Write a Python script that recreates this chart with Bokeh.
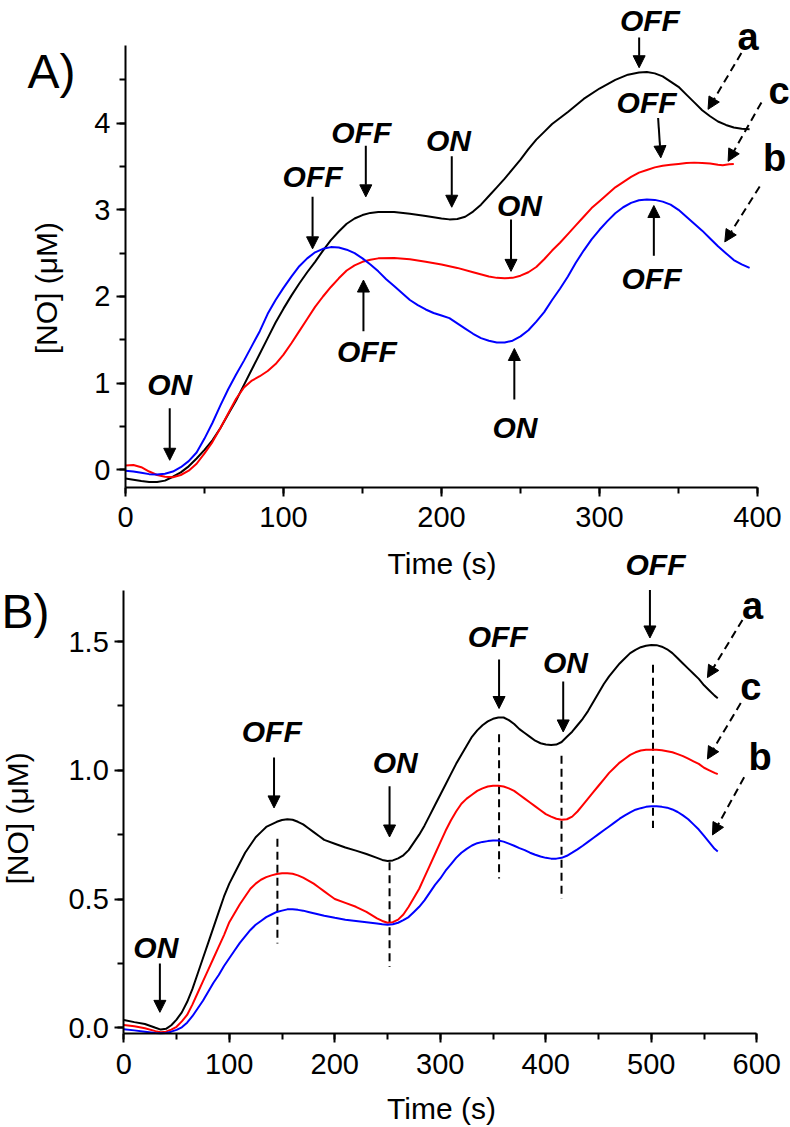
from math import pi
from bokeh.plotting import figure
from bokeh.models import (ColumnDataSource, Range1d, SingleIntervalTicker, NumeralTickFormatter,
                          Arrow, NormalHead)
from bokeh.layouts import column
from bokeh.core.properties import value
from bokeh.embed import file_html
from bokeh.resources import INLINE

# ---------------- Panel A data ----------------
a_time_a = [0, 5, 10, 15, 20, 25, 30, 35, 40, 45, 50, 55, 60, 65, 70, 75, 80, 85, 90, 95, 100, 105,
            110, 115, 120, 125, 130, 135, 140, 145, 150, 155, 160, 170, 180, 190, 200, 205, 210, 215,
            220, 225, 230, 235, 240, 245, 250, 255, 260, 265, 270, 275, 280, 290, 300, 310, 318, 325,
            330, 335, 340, 345, 350, 355, 360, 365, 370, 375, 380, 385, 390, 395]
a_no_a = [-0.10, -0.115, -0.13, -0.14, -0.14, -0.125, -0.08, -0.03, 0.04, 0.13, 0.23, 0.34, 0.48,
          0.64, 0.80, 0.98, 1.16, 1.34, 1.52, 1.70, 1.86, 2.01, 2.15, 2.28, 2.40, 2.53, 2.65, 2.75,
          2.84, 2.90, 2.94, 2.965, 2.975, 2.975, 2.955, 2.93, 2.90, 2.89, 2.895, 2.92, 2.98, 3.06,
          3.16, 3.26, 3.36, 3.47, 3.58, 3.70, 3.81, 3.90, 3.99, 4.06, 4.13, 4.28, 4.40, 4.50, 4.56,
          4.585, 4.59, 4.575, 4.54, 4.48, 4.42, 4.33, 4.24, 4.15, 4.08, 4.02, 3.98, 3.95, 3.935, 3.93]

a_time_b = [0, 5, 10, 15, 20, 25, 30, 35, 40, 45, 50, 55, 60, 65, 70, 75, 80, 85, 90, 95, 100, 105,
            110, 115, 120, 125, 130, 135, 140, 145, 150, 155, 160, 165, 170, 175, 180, 185, 190, 195,
            200, 205, 210, 215, 220, 225, 230, 235, 240, 245, 250, 255, 260, 265, 270, 275, 280, 285,
            290, 295, 300, 305, 310, 315, 320, 325, 330, 335, 340, 345, 350, 355, 360, 365, 370, 375,
            380, 385, 390, 395]
a_no_b = [-0.01, -0.02, -0.035, -0.05, -0.055, -0.045, -0.02, 0.03, 0.10, 0.20, 0.36, 0.54, 0.74,
          0.93, 1.10, 1.26, 1.43, 1.60, 1.80, 1.96, 2.10, 2.23, 2.35, 2.44, 2.51, 2.55, 2.57, 2.565,
          2.54, 2.50, 2.44, 2.37, 2.29, 2.20, 2.12, 2.04, 1.96, 1.90, 1.85, 1.81, 1.78, 1.75, 1.69,
          1.63, 1.57, 1.52, 1.49, 1.47, 1.47, 1.49, 1.54, 1.61, 1.71, 1.82, 1.96, 2.09, 2.23, 2.39,
          2.53, 2.66, 2.77, 2.87, 2.96, 3.03, 3.08, 3.11, 3.12, 3.115, 3.095, 3.06, 3.00, 2.92, 2.84,
          2.76, 2.67, 2.58, 2.50, 2.42, 2.37, 2.33]

a_time_c = [0, 5, 10, 15, 20, 25, 30, 35, 40, 45, 50, 55, 60, 65, 70, 75, 80, 85, 90, 95, 100, 105,
            110, 115, 120, 125, 130, 135, 140, 145, 150, 155, 160, 170, 180, 190, 200, 210, 220, 230,
            235, 240, 245, 250, 255, 260, 265, 270, 275, 280, 285, 290, 295, 300, 305, 310, 315, 320,
            325, 330, 335, 340, 345, 350, 355, 360, 365, 370, 375, 378, 382, 385]
a_no_c = [0.05, 0.055, 0.03, -0.02, -0.06, -0.08, -0.085, -0.06, -0.01, 0.07, 0.19, 0.32, 0.48, 0.65,
          0.82, 0.95, 1.03, 1.08, 1.14, 1.22, 1.33, 1.46, 1.60, 1.74, 1.88, 2.00, 2.11, 2.21, 2.30,
          2.36, 2.40, 2.425, 2.44, 2.445, 2.43, 2.40, 2.37, 2.33, 2.28, 2.23, 2.215, 2.21, 2.215, 2.24,
          2.28, 2.34, 2.43, 2.53, 2.62, 2.72, 2.82, 2.92, 3.02, 3.10, 3.18, 3.26, 3.32, 3.38, 3.43,
          3.46, 3.49, 3.51, 3.52, 3.53, 3.54, 3.545, 3.54, 3.535, 3.52, 3.515, 3.525, 3.53]

# annotations panel A
a_note_text = ["ON", "OFF", "OFF", "OFF", "ON", "ON", "ON", "OFF", "OFF", "OFF"]
a_note_x = [28, 118.4, 149.2, 152.8, 204.4, 249.3, 246.5, 331.9, 329.8, 332.9]
a_note_y = [0.98, 3.38, 3.89, 1.36, 3.80, 3.05, 0.49, 5.18, 4.24, 2.21]
a_arrow_x0 = [28, 118.4, 152.1, 150.6, 206.5, 244.0, 246.1, 325.1, 337.1, 334.4]
a_arrow_y0 = [0.71, 3.15, 3.74, 1.60, 3.62, 2.89, 0.81, 4.99, 4.06, 2.47]
a_arrow_x1 = [28, 118.4, 152.1, 150.6, 206.5, 244.0, 246.1, 325.1, 338.8, 334.4]
a_arrow_y1 = [0.11, 2.55, 3.15, 2.19, 3.03, 2.29, 1.40, 4.64, 3.60, 3.05]
a_curve_names = ["a", "c", "b"]
a_name_x = [394, 413.6, 410.9]
a_name_y = [4.99, 4.37, 3.60]
a_dash_x0 = [389.8, 402.5, 401.4]
a_dash_y0 = [4.81, 4.24, 3.27]
a_dash_x1 = [368.7, 381.4, 379.3]
a_dash_y1 = [4.16, 3.56, 2.63]

# ---------------- Panel B data ----------------
b_time_a = [0, 10, 20, 30, 35, 40, 45, 50, 55, 60, 65, 70, 75, 80, 85, 90, 95, 100, 105, 110, 115,
            120, 125, 130, 135, 140, 145, 150, 155, 160, 165, 170, 175, 180, 185, 190, 200, 210, 220,
            230, 240, 245, 250, 255, 260, 265, 270, 275, 280, 285, 290, 295, 300, 305, 310, 315, 320,
            325, 330, 335, 340, 345, 350, 355, 360, 365, 370, 375, 380, 385, 390, 395, 400, 405, 410,
            415, 420, 425, 430, 435, 440, 445, 450, 455, 460, 465, 470, 475, 480, 485, 490, 495, 500,
            505, 510, 515, 520, 525, 530, 535, 540, 545, 550, 555, 560, 563]
b_no_a = [0.03, 0.022, 0.015, 0.0, -0.007, -0.004, 0.01, 0.032, 0.06, 0.10, 0.15, 0.21, 0.27, 0.33,
          0.39, 0.45, 0.51, 0.56, 0.60, 0.64, 0.68, 0.71, 0.74, 0.76, 0.78, 0.79, 0.80, 0.807, 0.81,
          0.808, 0.80, 0.79, 0.775, 0.76, 0.745, 0.73, 0.715, 0.70, 0.688, 0.675, 0.66, 0.652, 0.648,
          0.65, 0.658, 0.67, 0.69, 0.72, 0.75, 0.785, 0.825, 0.865, 0.905, 0.945, 0.985, 1.025, 1.06,
          1.095, 1.13, 1.155, 1.175, 1.19, 1.20, 1.205, 1.205, 1.195, 1.18, 1.16, 1.145, 1.13, 1.115,
          1.105, 1.10, 1.098, 1.10, 1.11, 1.13, 1.15, 1.175, 1.20, 1.23, 1.265, 1.30, 1.335, 1.365,
          1.39, 1.415, 1.435, 1.455, 1.468, 1.478, 1.484, 1.487, 1.486, 1.48, 1.47, 1.455, 1.435,
          1.415, 1.395, 1.375, 1.355, 1.33, 1.31, 1.29, 1.28]

b_time_c = [0, 10, 20, 30, 35, 40, 45, 50, 55, 60, 65, 70, 75, 80, 85, 90, 95, 100, 105, 110, 115,
            120, 125, 130, 135, 140, 145, 150, 155, 160, 165, 170, 175, 180, 185, 190, 195, 200, 210,
            220, 230, 240, 245, 250, 255, 260, 265, 270, 275, 280, 285, 290, 295, 300, 305, 310, 315,
            320, 325, 330, 335, 340, 345, 350, 355, 360, 365, 370, 375, 380, 385, 390, 395, 400, 405,
            410, 415, 420, 425, 430, 435, 440, 445, 450, 455, 460, 465, 470, 475, 480, 485, 490, 495,
            500, 505, 510, 515, 520, 525, 530, 535, 540, 545, 550, 555, 560, 563]
b_no_c = [0.011, 0.006, -0.002, -0.013, -0.017, -0.015, -0.007, 0.004, 0.025, 0.05, 0.09, 0.135,
          0.18, 0.225, 0.27, 0.315, 0.36, 0.41, 0.445, 0.48, 0.51, 0.54, 0.56, 0.575, 0.585, 0.592,
          0.597, 0.60, 0.60, 0.598, 0.592, 0.583, 0.572, 0.56, 0.545, 0.53, 0.515, 0.50, 0.485, 0.47,
          0.45, 0.425, 0.415, 0.408, 0.41, 0.42, 0.44, 0.47, 0.505, 0.54, 0.585, 0.63, 0.675, 0.72,
          0.765, 0.805, 0.84, 0.87, 0.89, 0.905, 0.92, 0.93, 0.937, 0.94, 0.94, 0.937, 0.93, 0.92,
          0.905, 0.89, 0.875, 0.86, 0.845, 0.83, 0.82, 0.812, 0.808, 0.81, 0.82, 0.84, 0.865, 0.89,
          0.915, 0.94, 0.965, 0.99, 1.01, 1.03, 1.045, 1.06, 1.07, 1.077, 1.08, 1.08, 1.08, 1.078,
          1.074, 1.07, 1.063, 1.055, 1.045, 1.035, 1.025, 1.01, 1.0, 0.99, 0.985]

b_time_b = [0, 10, 20, 30, 35, 40, 45, 50, 55, 60, 65, 70, 75, 80, 85, 90, 95, 100, 105, 110, 115,
            120, 125, 130, 135, 140, 145, 150, 155, 160, 165, 170, 175, 180, 190, 200, 210, 220, 230,
            240, 245, 250, 255, 260, 265, 270, 275, 280, 285, 290, 295, 300, 305, 310, 315, 320, 325,
            330, 335, 340, 345, 350, 355, 360, 365, 370, 375, 380, 385, 390, 395, 400, 405, 410, 415,
            420, 425, 430, 435, 440, 445, 450, 455, 460, 465, 470, 475, 480, 485, 490, 495, 500, 505,
            510, 515, 520, 525, 530, 535, 540, 545, 550, 555, 560, 563]
b_no_b = [-0.006, -0.01, -0.015, -0.02, -0.021, -0.02, -0.015, -0.008, 0.002, 0.02, 0.045, 0.075,
          0.105, 0.14, 0.175, 0.205, 0.24, 0.27, 0.30, 0.33, 0.355, 0.38, 0.40, 0.415, 0.43, 0.44,
          0.45, 0.455, 0.46, 0.46, 0.458, 0.455, 0.45, 0.445, 0.435, 0.427, 0.42, 0.415, 0.41, 0.405,
          0.402, 0.40, 0.402, 0.408, 0.418, 0.43, 0.45, 0.47, 0.495, 0.525, 0.555, 0.58, 0.61, 0.635,
          0.66, 0.68, 0.695, 0.708, 0.717, 0.722, 0.725, 0.727, 0.727, 0.723, 0.715, 0.707, 0.698,
          0.69, 0.68, 0.672, 0.665, 0.66, 0.657, 0.657, 0.66, 0.668, 0.68, 0.693, 0.707, 0.722, 0.737,
          0.752, 0.767, 0.782, 0.797, 0.812, 0.825, 0.837, 0.847, 0.853, 0.858, 0.86, 0.86, 0.858,
          0.855, 0.848, 0.838, 0.825, 0.81, 0.79, 0.77, 0.745, 0.72, 0.695, 0.685]

# annotations panel B
b_note_text = ["ON", "OFF", "ON", "OFF", "ON", "OFF"]
b_note_x = [30.4, 140.2, 257.3, 354.4, 418.7, 504.0]
b_note_y = [0.313, 1.149, 1.03, 1.52, 1.42, 1.80]
b_arrow_x0 = [34.2, 142.4, 251.9, 355.7, 416.5, 498.7]
b_arrow_y0 = [0.25, 1.05, 0.938, 1.43, 1.345, 1.70]
b_arrow_x1 = [34.2, 142.4, 251.9, 355.7, 416.5, 498.7]
b_arrow_y1 = [0.06, 0.854, 0.741, 1.24, 1.149, 1.514]
b_vline_x = [145.6, 251.9, 355.7, 414.9, 501.6]
b_vline_top = [0.734, 0.643, 1.14, 1.057, 1.41]
b_vline_bottom = [0.327, 0.236, 0.58, 0.50, 0.776]
b_curve_names = ["a", "c", "b"]
b_name_x = [596, 594.3, 603.2]
b_name_y = [1.638, 1.322, 1.05]
b_dash_x0 = [586.4, 584.8, 588.0]
b_dash_y0 = [1.584, 1.261, 0.973]
b_dash_x1 = [553.2, 553.2, 558.0]
b_dash_y1 = [1.36, 1.044, 0.749]

# titles / axis titles (text, x, y in data units of each panel)
x_title = "Time (s)"
y_title = "[NO] (μM)"
a_panel_label, a_panel_xy = "A)", (-62.0, 4.597)
a_xtitle_xy = (200.3, -1.087)
a_ytitle_xy = (-50.0, 2.096)
b_panel_label, b_panel_xy = "B)", (-115.9, 1.617)
b_xtitle_xy = (301.1, -0.3134)
b_ytitle_xy = (-100.4, 0.813)

FONT = "Liberation Sans"
DASH = "8 5"


def style_axes(p, xint, yint, xloc, yloc, yfmt=None, xb=None, yb=None):
    xa = p.xaxis[0]
    ya = p.yaxis[0]
    xa.fixed_location = xloc
    ya.fixed_location = yloc
    xa.ticker = SingleIntervalTicker(interval=xint, num_minor_ticks=2)
    ya.ticker = SingleIntervalTicker(interval=yint, num_minor_ticks=2)
    if yfmt:
        ya.formatter = NumeralTickFormatter(format=yfmt)
    xa.bounds = xb
    ya.bounds = yb
    for ax in (xa, ya):
        ax.axis_line_width = 2
        ax.axis_line_color = "black"
        ax.major_tick_line_width = 2
        ax.minor_tick_line_width = 2
        ax.major_tick_in = 0
        ax.major_tick_out = 9
        ax.minor_tick_in = 0
        ax.minor_tick_out = 6
        ax.major_tick_line_color = "black"
        ax.minor_tick_line_color = "black"
        ax.major_label_text_font = FONT
        ax.major_label_text_font_size = "29px"
        ax.major_label_text_color = "black"
    xa.major_label_standoff = 11
    ya.major_label_standoff = 6


def add_titles(p, plabel, pxy, xxy, yxy):
    p.text(x=[pxy[0]], y=[pxy[1]], text=[plabel], text_font=value(FONT), text_font_size="48px",
           text_align="left", text_baseline="middle", text_color="black")
    p.text(x=[xxy[0]], y=[xxy[1]], text=[x_title], text_font=value(FONT), text_font_size="30px",
           text_align="center", text_baseline="middle", text_color="black")
    p.text(x=[yxy[0]], y=[yxy[1]], text=[y_title], angle=pi / 2, text_font=value(FONT),
           text_font_size="30px", text_align="center", text_baseline="middle", text_color="black")


def add_notes(p, tx, ty, tt, x0, y0, x1, y1, names, nx, ny, dx0, dy0, dx1, dy1):
    src = ColumnDataSource(dict(x=tx, y=ty, t=tt))
    p.text(x="x", y="y", text="t", source=src, text_font=value(FONT), text_font_style="bold italic",
           text_font_size="30px", text_align="center", text_baseline="middle", text_color="black")
    asrc = ColumnDataSource(dict(x0=x0, y0=y0, x1=x1, y1=y1))
    p.add_layout(Arrow(end=NormalHead(size=12, fill_color="black", line_color="black", line_width=1),
                       x_start="x0", y_start="y0", x_end="x1", y_end="y1", source=asrc,
                       line_width=2, line_color="black"))
    nsrc = ColumnDataSource(dict(x=nx, y=ny, t=names))
    p.text(x="x", y="y", text="t", source=nsrc, text_font=value(FONT), text_font_style="bold",
           text_font_size="38px", text_align="center", text_baseline="middle", text_color="black")
    dsrc = ColumnDataSource(dict(x0=dx0, y0=dy0, x1=dx1, y1=dy1))
    p.add_layout(Arrow(end=NormalHead(size=12, fill_color="black", line_color="black", line_width=1),
                       x_start="x0", y_start="y0", x_end="x1", y_end="y1", source=dsrc,
                       line_width=2, line_color="black", line_dash=DASH))


# ---------------- Figure A ----------------
pA = figure(width=790, height=582, x_range=Range1d(-79.11, 420.89), y_range=Range1d(-1.3006, 5.416),
            min_border=0, output_backend="svg", toolbar_location=None, outline_line_color=None)
pA.grid.visible = False
style_axes(pA, 100, 1, -0.2, 0, None, (0, 400), (-0.2, 4.9))

pA.line(a_time_a, a_no_a, line_color="black", line_width=2)
pA.line(a_time_c, a_no_c, line_color="red", line_width=2)
pA.line(a_time_b, a_no_b, line_color="blue", line_width=2)
add_notes(pA, a_note_x, a_note_y, a_note_text, a_arrow_x0, a_arrow_y0, a_arrow_x1, a_arrow_y1,
          a_curve_names, a_name_x, a_name_y, a_dash_x0, a_dash_y0, a_dash_x1, a_dash_y1)
add_titles(pA, a_panel_label, a_panel_xy, a_xtitle_xy, a_ytitle_xy)

# ---------------- Figure B ----------------
pB = figure(width=790, height=579, x_range=Range1d(-116.87, 631.94), y_range=Range1d(-0.3872, 1.8614),
            min_border=0, output_backend="svg", toolbar_location=None, outline_line_color=None,
            margin=(-34, 0, 0, 0))
pB.background_fill_color = None
pB.border_fill_color = None
pB.grid.visible = False
style_axes(pB, 100, 0.5, -0.023, 0, "0.0", (0, 600), (-0.023, 1.7))

pB.segment(b_vline_x, b_vline_top, b_vline_x, b_vline_bottom, line_color="black", line_width=2,
           line_dash=DASH)
pB.line(b_time_a, b_no_a, line_color="black", line_width=2)
pB.line(b_time_c, b_no_c, line_color="red", line_width=2)
pB.line(b_time_b, b_no_b, line_color="blue", line_width=2)
add_notes(pB, b_note_x, b_note_y, b_note_text, b_arrow_x0, b_arrow_y0, b_arrow_x1, b_arrow_y1,
          b_curve_names, b_name_x, b_name_y, b_dash_x0, b_dash_y0, b_dash_x1, b_dash_y1)
add_titles(pB, b_panel_label, b_panel_xy, b_xtitle_xy, b_ytitle_xy)

layout = column(pA, pB)
open("out.html", "w").write(file_html(layout, INLINE))
